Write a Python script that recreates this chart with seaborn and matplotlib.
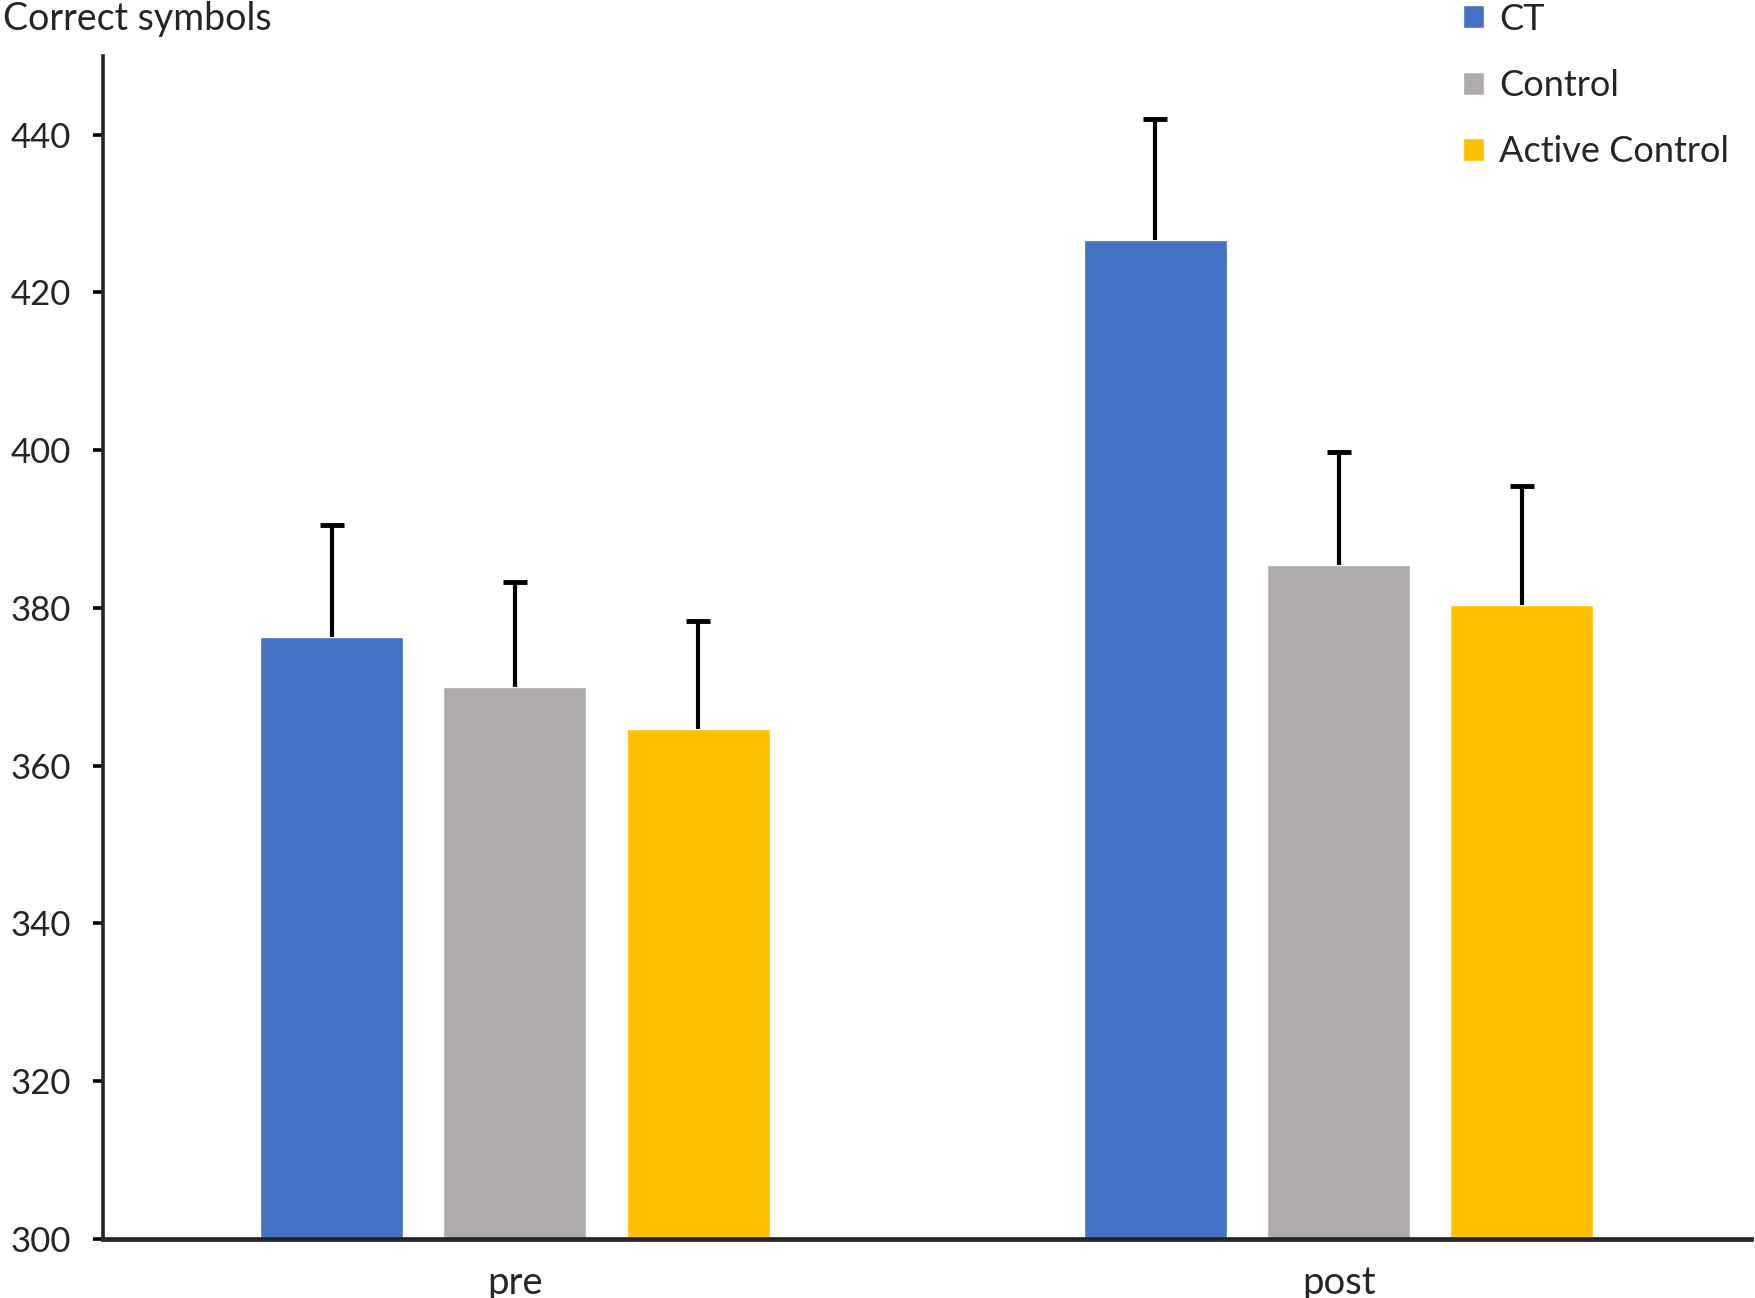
import numpy as np
import pandas as pd
import seaborn as sns
import matplotlib.pyplot as plt

phases = ["pre", "post"]
groups = ["CT", "Control", "Active Control"]
ct_mean = [376.3, 426.6]
control_mean = [370.0, 385.4]
active_mean = [364.6, 380.4]
ct_err = [14.2, 15.4]
control_err = [13.3, 14.4]
active_err = [13.7, 15.0]
colors = ["#4472C4", "#AFABAB", "#FFC000"]

df = pd.DataFrame({
    "phase": phases * 3,
    "group": [g for g in groups for _ in phases],
    "score": ct_mean + control_mean + active_mean,
})
errs = {"CT": ct_err, "Control": control_err, "Active Control": active_err}

sns.set_style("ticks")
plt.rcParams["font.family"] = ["Lato", "DejaVu Sans"]

fig = plt.figure(figsize=(17.56, 12.98), dpi=100)
ax = fig.add_axes([0.0587, 0.0458, 0.9382, 0.9111])

sns.barplot(data=df, x="phase", y="score", hue="group", order=phases,
            hue_order=groups, palette=colors, width=0.6675, gap=0.22,
            errorbar=None, saturation=1, ax=ax)

# one-sided error bars, upward only
for cont, g in zip(ax.containers, groups):
    xs = [b.get_x() + b.get_width() / 2 for b in cont]
    ys = [b.get_height() for b in cont]
    eb = ax.errorbar(xs, ys, yerr=[np.zeros(len(ys)), errs[g]], fmt="none",
                     ecolor="black", elinewidth=3, capsize=8.5, capthick=3.5)
    eb.lines[1][0].set_visible(False)  # hide lower cap

ax.set_ylim(300, 450)
ax.set_yticks(np.arange(300, 441, 20))
ax.set_xlim(-0.5, 1.5)
ax.set_xlabel("")
ax.set_ylabel("Correct symbols", rotation=0, fontsize=27, ha="left", va="center")
ax.yaxis.set_label_coords(-0.061, 1.031)

sns.despine(ax=ax)
ax.spines["left"].set_linewidth(2.6)
ax.spines["bottom"].set_linewidth(3.4)
ax.tick_params(axis="y", labelsize=25, width=2.6, length=7, pad=16, color="black")
ax.tick_params(axis="x", labelsize=27.5, length=0, pad=19)

ax.legend(loc="upper left", bbox_to_anchor=(0.833, 0.998), bbox_transform=fig.transFigure,
          frameon=False, fontsize=26, handlelength=0.6, handleheight=0.6,
          handletextpad=0.4, labelspacing=0.92, borderpad=0, borderaxespad=0)

fig.savefig("out.png", dpi=100)
